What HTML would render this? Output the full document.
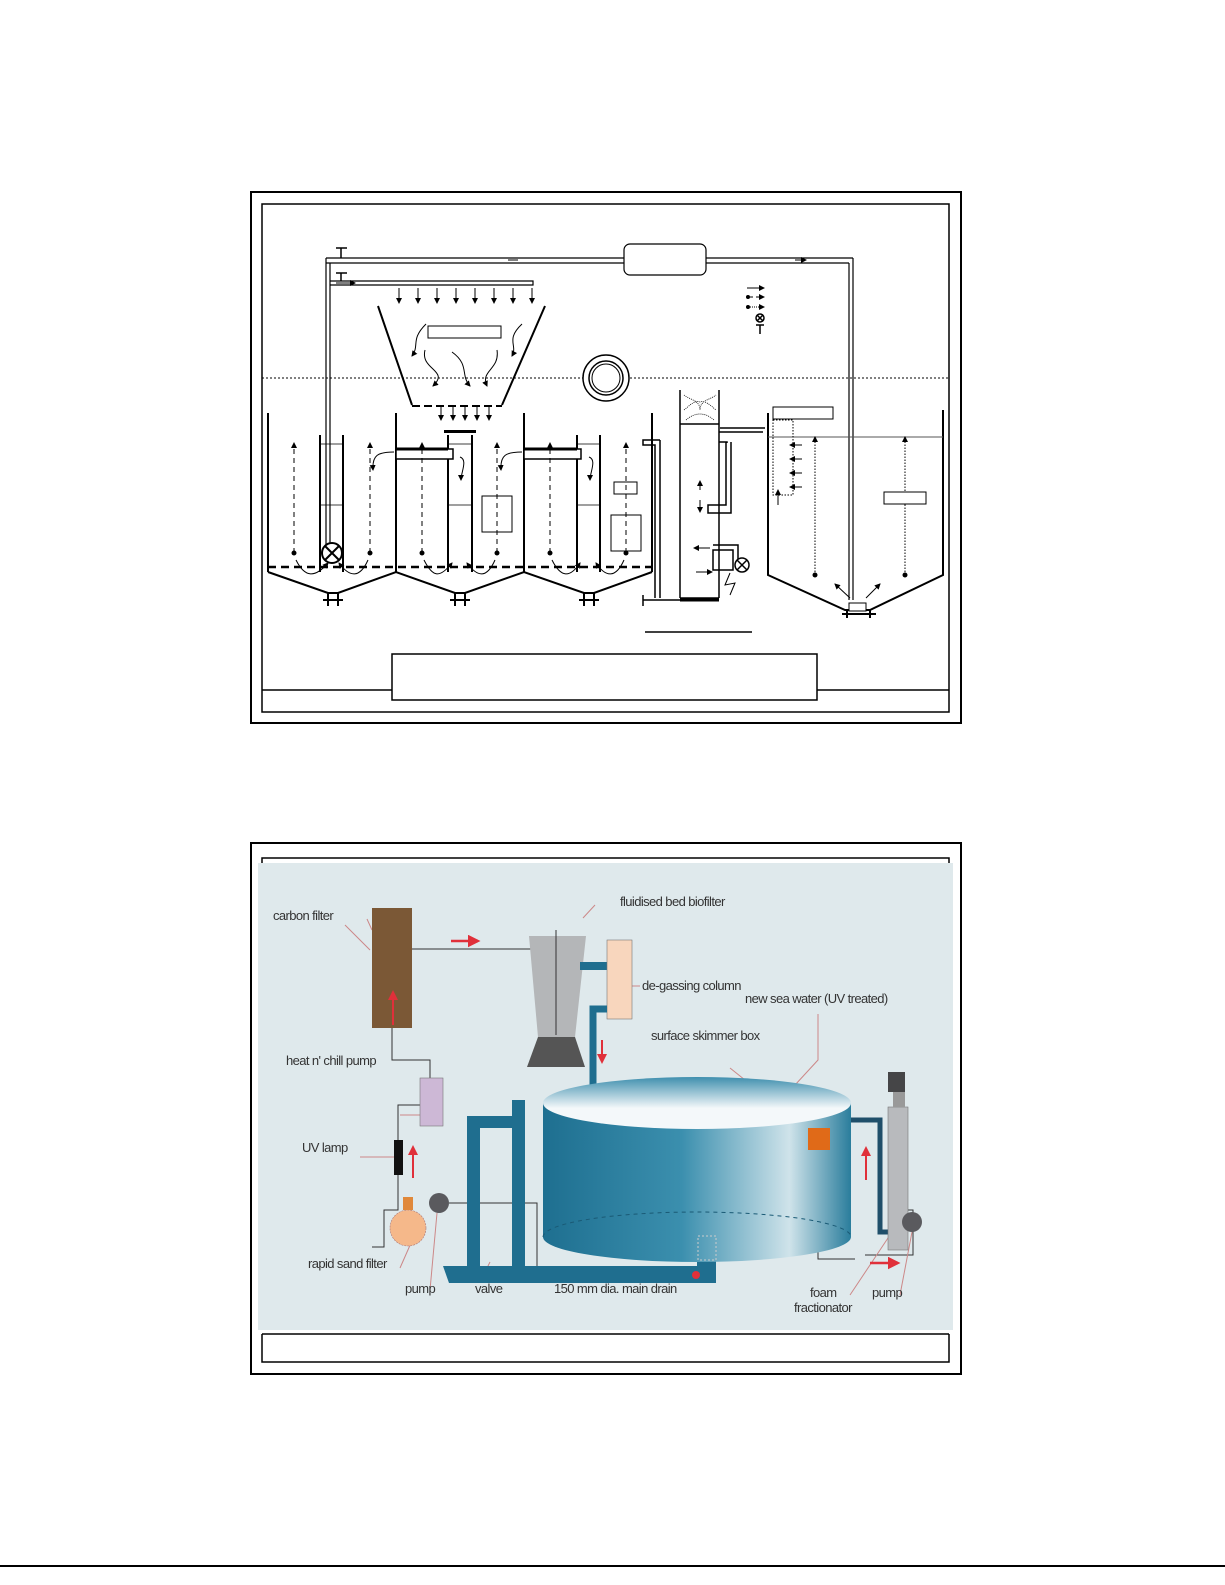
<!DOCTYPE html>
<html><head><meta charset="utf-8"><style>
html,body{margin:0;padding:0;background:#fff}
svg{display:block}
text{font-family:"Liberation Sans",sans-serif;font-size:13px;fill:#333;letter-spacing:-0.6px}
</style></head><body>
<svg width="1225" height="1585" viewBox="0 0 1225 1585" xmlns="http://www.w3.org/2000/svg">
<defs>
<marker id="ah" markerWidth="6" markerHeight="6" refX="5" refY="3" orient="auto"><path d="M0,0 L6,3 L0,6z" fill="#000"/></marker>
<marker id="rh" markerWidth="5" markerHeight="5" refX="4" refY="2.5" orient="auto"><path d="M0,0 L5,2.5 L0,5z" fill="#e0303a"/></marker>
<linearGradient id="tk" x1="0" x2="1" y1="0" y2="0">
<stop offset="0" stop-color="#1e6f90"/><stop offset="0.45" stop-color="#3b8fae"/><stop offset="0.8" stop-color="#cfe3ea"/><stop offset="1" stop-color="#2a7d9c"/></linearGradient>
<linearGradient id="tp" x1="0" x2="0" y1="0" y2="1"><stop offset="0" stop-color="#3f8fae"/><stop offset="0.6" stop-color="#f4f8fa"/></linearGradient>
</defs>

<!-- ===== TOP DIAGRAM ===== -->
<rect x="251" y="192" width="710" height="531" fill="none" stroke="#000" stroke-width="2"/>
<rect x="262" y="204" width="687" height="508" fill="none" stroke="#000" stroke-width="1.5"/>
<line x1="262" y1="690" x2="392" y2="690" stroke="#000" stroke-width="1.5"/>
<line x1="817" y1="690" x2="949" y2="690" stroke="#000" stroke-width="1.5"/>
<rect x="392" y="654" width="425" height="46" fill="#fff" stroke="#000" stroke-width="1.5"/>
<line x1="645" y1="632" x2="752" y2="632" stroke="#000" stroke-width="1.5"/>
<line x1="262" y1="378" x2="949" y2="378" stroke="#000" stroke-dasharray="2,2"/>

<!-- top pipe -->
<g fill="none" stroke="#000" stroke-width="1.2">
<path d="M326 258 H624 M326 263 H624 M706 258 H853 M706 263 H849"/>
<path d="M326 258 V545 M330 263 V545"/>
<path d="M853 258 V600 M849 263 V600"/>
<rect x="624" y="244" width="82" height="31" rx="6" fill="#fff"/>
<path d="M330 281 H533 V285 H330"/>
</g>
<path d="M508 260 H518 M795 260 H806" stroke="#000" marker-end="url(#ah)"/>
<path d="M336 248 H347 M341 248 V258 M336 273 H347 M341 273 V281" stroke="#000" stroke-width="1.5"/>
<path d="M336 283 H355" stroke="#000" marker-end="url(#ah)"/>
<g stroke="#000" marker-end="url(#ah)">
<line x1="399" y1="288" x2="399" y2="303"/><line x1="418" y1="288" x2="418" y2="303"/><line x1="437" y1="288" x2="437" y2="303"/><line x1="456" y1="288" x2="456" y2="303"/><line x1="475" y1="288" x2="475" y2="303"/><line x1="494" y1="288" x2="494" y2="303"/><line x1="513" y1="288" x2="513" y2="303"/><line x1="532" y1="288" x2="532" y2="303"/>
<line x1="441" y1="407" x2="441" y2="420"/><line x1="453" y1="407" x2="453" y2="420"/><line x1="465" y1="405" x2="465" y2="420"/><line x1="477" y1="407" x2="477" y2="420"/><line x1="489" y1="407" x2="489" y2="420"/>
</g>
<!-- trapezoid -->
<path d="M378 306 L412 405 M545 306 L502 405" stroke="#000" stroke-width="2" fill="none"/>
<line x1="412" y1="406" x2="502" y2="406" stroke="#000" stroke-width="2" stroke-dasharray="8,4"/>
<rect x="428" y="326" width="73" height="12" fill="#fff" stroke="#000"/>
<g fill="none" stroke="#000" stroke-width="1" marker-end="url(#ah)">
<path d="M426 324 C410 340 420 345 412 356"/><path d="M522 324 C505 340 518 345 512 356"/>
<path d="M425 350 C420 370 450 370 433 386"/><path d="M452 352 C470 365 460 375 470 386"/><path d="M497 350 C500 370 480 370 487 386"/>
</g>
<circle cx="606" cy="378" r="23" fill="#fff" stroke="#000" stroke-width="1.5"/>
<circle cx="606" cy="378" r="17" fill="#fff" stroke="#000" stroke-width="1.5"/>
<circle cx="606" cy="378" r="14" fill="#fff" stroke="#000"/>
<!-- legend -->
<g stroke="#000" marker-end="url(#ah)"><line x1="747" y1="288" x2="764" y2="288"/><line x1="750" y1="297" x2="764" y2="297" stroke-dasharray="3,3"/><line x1="750" y1="307" x2="764" y2="307" stroke-dasharray="1,1"/></g>
<circle cx="748" cy="297" r="2"/><circle cx="748" cy="307" r="2"/>
<circle cx="760" cy="318" r="4" fill="#fff" stroke="#000" stroke-width="1.5"/><path d="M757 315 L763 321 M763 315 L757 321 M756 325 H764 M760 325 V334" stroke="#000" stroke-width="1.5"/>

<!-- three tanks -->
<g fill="none" stroke="#000" stroke-width="2">
<path d="M268 413 V572 M396 413 V572 M524 413 V572 M652 413 V572"/>
<path d="M268 572 L328 593 H338 L396 572 L455 593 H465 L524 572 L584 593 H594 L652 572"/>
<path d="M320 435 V572 M343 435 V572 M448 435 V572 M472 435 V572 M577 435 V572 M600 435 V572"/>
<path d="M328 593 V606 M338 593 V606 M455 593 V606 M465 593 V606 M584 593 V606 M594 593 V606 M323 600 H343 M450 600 H470 M579 600 H599"/>
</g>
<line x1="268" y1="567" x2="652" y2="567" stroke="#000" stroke-width="2.5" stroke-dasharray="8,5"/>
<path d="M320 444 H343 M320 505 H343 M448 444 H472 M448 505 H472 M577 444 H600 M577 505 H600" stroke="#000" stroke-width="0.7"/>
<rect x="444" y="430" width="32" height="3" fill="#000"/>
<rect x="396" y="449" width="57" height="10" fill="#fff" stroke="#000" stroke-width="1.5"/><line x1="396" y1="449" x2="448" y2="449" stroke="#000" stroke-width="3"/>
<rect x="524" y="449" width="57" height="10" fill="#fff" stroke="#000" stroke-width="1.5"/><line x1="524" y1="449" x2="577" y2="449" stroke="#000" stroke-width="3"/>
<rect x="482" y="496" width="30" height="36" fill="#fff" stroke="#000"/>
<rect x="611" y="515" width="30" height="36" fill="#fff" stroke="#000"/>
<rect x="614" y="482" width="23" height="12" fill="#fff" stroke="#000"/>
<circle cx="332" cy="553" r="10" fill="#fff" stroke="#000" stroke-width="2"/><path d="M325 546 L339 560 M339 546 L325 560" stroke="#000" stroke-width="2"/>
<g stroke="#000" stroke-dasharray="5,4" marker-end="url(#ah)">
<line x1="294" y1="553" x2="294" y2="443"/><line x1="370" y1="553" x2="370" y2="443"/><line x1="422" y1="553" x2="422" y2="443"/><line x1="497" y1="553" x2="497" y2="443"/><line x1="550" y1="553" x2="550" y2="443"/><line x1="626" y1="553" x2="626" y2="443"/>
</g>
<g><circle cx="294" cy="553" r="2.5"/><circle cx="370" cy="553" r="2.5"/><circle cx="422" cy="553" r="2.5"/><circle cx="497" cy="553" r="2.5"/><circle cx="550" cy="553" r="2.5"/><circle cx="626" cy="553" r="2.5"/></g>
<g fill="none" stroke="#000" marker-end="url(#ah)">
<path d="M394 452 C378 452 372 455 373 470"/><path d="M460 457 C468 460 461 472 461 480"/>
<path d="M522 452 C506 452 500 455 501 470"/><path d="M589 457 C597 460 590 472 590 480"/>
<path d="M296 560 C305 578 315 578 328 563"/><path d="M368 560 C360 578 350 578 339 563"/>
<path d="M424 560 C433 578 440 578 452 563"/><path d="M495 560 C487 578 478 578 467 563"/>
<path d="M552 560 C561 578 570 578 580 563"/><path d="M624 560 C616 578 606 578 596 563"/>
</g>
<!-- standpipe & column -->
<g fill="none" stroke="#000" stroke-width="1.5">
<path d="M660 440 H643 V445 H655 V598 M660 440 V598 M643 600 H680 M643 595 V606 M643 600 H650"/>
<path d="M680 390 V598 M719 390 V598 M680 598 H719"/>
<path d="M680 424 H719"/>
<path d="M719 432 H763 M719 442 H727 V443 M726 442 V505 H708 V513 H731 V442 M720 428 H765"/>
<path d="M713 545 H738 V565 M713 550 H733 V570 H713 Z"/>
</g>
<path d="M680 600 H719" stroke="#000" stroke-width="3"/>
<path d="M684 395 C690 400 700 400 700 410 C700 400 710 400 716 395 M684 410 C690 405 695 400 700 402 C705 400 710 405 716 410 M686 420 C695 412 705 412 714 420" fill="none" stroke="#000" stroke-width="0.8" stroke-dasharray="1,1"/>
<circle cx="742" cy="565" r="7" fill="#fff" stroke="#000" stroke-width="1.5"/><path d="M737 560 L747 570 M747 560 L737 570" stroke="#000" stroke-width="1.5"/>
<path d="M730 573 L725 585 L735 583 L730 595" fill="none" stroke="#000"/>
<g stroke="#000" marker-end="url(#ah)"><line x1="710" y1="548" x2="694" y2="548"/><line x1="696" y1="572" x2="712" y2="572"/>
<line x1="700" y1="490" x2="700" y2="481"/><line x1="700" y1="500" x2="700" y2="512"/></g>
<!-- right tank -->
<g fill="none" stroke="#000" stroke-width="2">
<path d="M768 413 V575 L845 610 H870 L943 575 V410"/>
<path d="M847 610 V618 M870 610 V618 M842 614 H876"/>
</g>
<line x1="768" y1="437" x2="943" y2="437" stroke="#555"/>
<rect x="773" y="407" width="60" height="12" fill="#fff" stroke="#000"/>
<rect x="773" y="420" width="20" height="75" fill="none" stroke="#000" stroke-dasharray="1.5,1.5"/>
<g stroke="#000" marker-end="url(#ah)"><line x1="802" y1="445" x2="790" y2="445"/><line x1="802" y1="459" x2="790" y2="459"/><line x1="802" y1="473" x2="790" y2="473"/><line x1="802" y1="487" x2="790" y2="487"/><line x1="778" y1="505" x2="778" y2="490"/>
<line x1="815" y1="575" x2="815" y2="437" stroke-dasharray="1.5,1.5"/><line x1="905" y1="575" x2="905" y2="437" stroke-dasharray="1.5,1.5"/>
<line x1="850" y1="598" x2="835" y2="584"/><line x1="866" y1="598" x2="880" y2="584"/></g>
<circle cx="815" cy="575" r="2.5"/><circle cx="905" cy="575" r="2.5"/>
<rect x="884" y="492" width="42" height="12" fill="#fff" stroke="#000"/>
<rect x="849" y="603" width="17" height="8" fill="#fff" stroke="#000"/>

<!-- ===== BOTTOM DIAGRAM ===== -->
<rect x="251" y="843" width="710" height="531" fill="none" stroke="#000" stroke-width="2"/>
<rect x="258" y="863" width="695" height="467" fill="#dfe9ec"/>
<path d="M262 863 V858 H949 V863" fill="none" stroke="#000" stroke-width="1.5"/>
<path d="M262 1334 H949 M262 1334 V1362 H949 V1334" fill="none" stroke="#000" stroke-width="1.5"/>

<g fill="none" stroke="#333" stroke-width="1">
<path d="M412 949 H556 M556 930 V1035"/>
<path d="M392 1028 V1060 H430 V1078"/>
<path d="M420 1105 H398 V1140 M398 1175 V1210 H384 V1247 H372"/>
<path d="M449 1203 H537 V1270"/>
<path d="M818 1150 V1259 H855 M865 1255 H913 V1210 H904"/>
</g>
<g fill="none" stroke="#c88" stroke-width="1">
<path d="M367 919 L372 930 M345 925 L370 950"/><path d="M583 918 L595 905"/><path d="M632 986 H640"/>
<path d="M818 1014 V1060 L795 1085"/><path d="M730 1068 L805 1128"/>
<path d="M411 1243 L400 1268"/><path d="M437 1213 L430 1290"/><path d="M490 1262 L487 1268"/>
<path d="M890 1235 L850 1295"/><path d="M912 1232 L900 1295"/>
<path d="M398 1157 H360"/><path d="M420 1115 H400"/>
</g>
<!-- carbon filter -->
<rect x="372" y="908" width="40" height="120" fill="#7b5836"/>
<path d="M393 1025 V992" stroke="#e0303a" stroke-width="2" marker-end="url(#rh)"/>
<path d="M451 941 H478" stroke="#e0303a" stroke-width="2.5" marker-end="url(#rh)"/>
<!-- biofilter -->
<path d="M529 936 H586 L575 1037 H538 Z" fill="#b4b6b8"/>
<path d="M538 1037 H575 L585 1067 H527 Z" fill="#555"/>
<line x1="556" y1="930" x2="556" y2="1035" stroke="#333"/>
<rect x="580" y="962" width="28" height="8" fill="#1f6e8f"/>
<rect x="607" y="940" width="25" height="79" fill="#f8d6bd" stroke="#777" stroke-width="0.6"/>
<path d="M607 1009 H593 V1092" fill="none" stroke="#1f6e8f" stroke-width="7"/>
<path d="M602 1040 V1062" stroke="#e0303a" stroke-width="2" marker-end="url(#rh)"/>
<!-- heat pump, uv, filter, pump -->
<rect x="420" y="1078" width="23" height="48" fill="#cdb8d6" stroke="#777" stroke-width="0.6"/>
<rect x="394" y="1140" width="9" height="35" fill="#111"/>
<path d="M413 1178 V1147" stroke="#e0303a" stroke-width="2" marker-end="url(#rh)"/>
<circle cx="408" cy="1228" r="18" fill="#f5b88a" stroke="#a77" stroke-width="0.6" stroke-dasharray="2,1"/>
<rect x="403" y="1197" width="10" height="13" fill="#e0883a"/>
<circle cx="439" cy="1203" r="10" fill="#5a5a5e"/>
<!-- blue piping -->
<g fill="#1f6e8f">
<rect x="467" y="1116" width="13" height="154"/><rect x="467" y="1116" width="50" height="12"/><rect x="512" y="1100" width="13" height="170"/>
<path d="M443 1266 H716 V1283 H449 Z"/>
<rect x="697" y="1250" width="19" height="30"/>
</g>
<circle cx="696" cy="1275" r="4" fill="#e0303a"/>
<!-- tank -->
<path d="M543 1103 V1237 A154 25 0 0 0 851 1237 V1103 Z" fill="url(#tk)"/>
<ellipse cx="697" cy="1103" rx="154" ry="26" fill="url(#tp)"/>
<path d="M543 1237 A154 25 0 0 1 851 1237" fill="none" stroke="#1a5a75" stroke-dasharray="4,4"/>
<rect x="698" y="1236" width="18" height="24" fill="none" stroke="#ccc" stroke-dasharray="2,2"/>
<rect x="808" y="1128" width="22" height="22" fill="#e06a18"/>
<!-- fractionator -->
<path d="M851 1120 H880 V1232 H890" fill="none" stroke="#1f4f6a" stroke-width="5"/>
<rect x="888" y="1107" width="20" height="143" fill="#b8babd" stroke="#777" stroke-width="0.6"/>
<rect x="893" y="1092" width="12" height="15" fill="#999"/>
<rect x="888" y="1072" width="17" height="20" fill="#454547"/>
<circle cx="912" cy="1222" r="10" fill="#5a5a5e"/>
<path d="M866 1180 V1148" stroke="#e0303a" stroke-width="2" marker-end="url(#rh)"/>
<path d="M870 1263 H898" stroke="#e0303a" stroke-width="2.5" marker-end="url(#rh)"/>
<!-- labels -->
<text x="273" y="920">carbon filter</text>
<text x="620" y="906">fluidised bed biofilter</text>
<text x="642" y="990">de-gassing column</text>
<text x="745" y="1003">new sea water (UV treated)</text>
<text x="651" y="1040">surface skimmer box</text>
<text x="286" y="1065">heat n' chill pump</text>
<text x="302" y="1152">UV lamp</text>
<text x="308" y="1268">rapid sand filter</text>
<text x="405" y="1293">pump</text>
<text x="475" y="1293">valve</text>
<text x="554" y="1293">150 mm dia. main drain</text>
<text x="810" y="1297">foam</text>
<text x="794" y="1312">fractionator</text>
<text x="872" y="1297">pump</text>

<line x1="0" y1="1566" x2="1225" y2="1566" stroke="#000" stroke-width="2"/>
</svg>
</body></html>
